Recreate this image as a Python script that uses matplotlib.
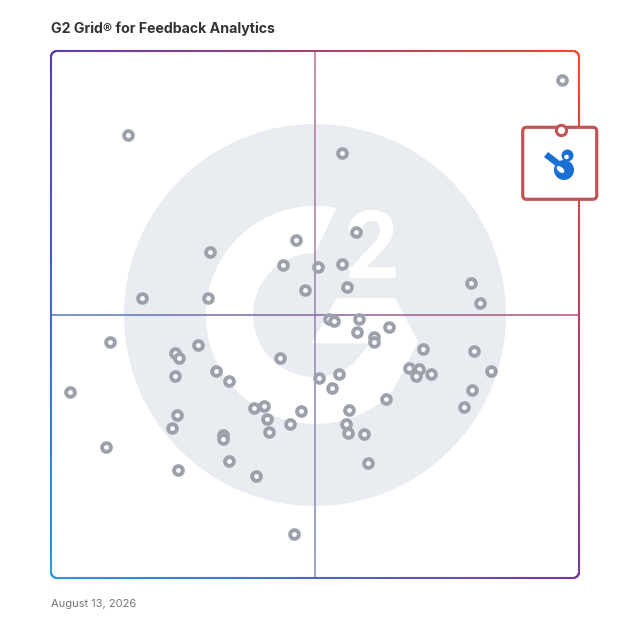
import numpy as np
import matplotlib
matplotlib.use("Agg")
import matplotlib.pyplot as plt
from matplotlib.collections import LineCollection
from matplotlib.patches import Circle, Polygon, FancyBboxPatch, Ellipse

# chart text
title = "G2 Grid\u00ae for Feedback Analytics"
date_label = "August 13, 2026"

# product positions on the grid (market presence 0-100, satisfaction 0-100)
presence = [96.8, 14.6, 55.2, 57.7, 46.4, 30.2, 43.9, 50.5, 55.1, 56.0,
            48.1, 17.2, 29.7, 79.5, 81.3, 52.7, 53.6, 58.3, 58.0, 61.2,
            61.2, 64.1, 70.5, 80.1, 23.4, 24.2, 27.9, 23.4, 43.3, 31.3,
            33.8, 50.7, 54.5, 53.2, 67.8, 69.7, 69.1, 71.9, 83.4, 79.8,
            78.3, 63.5, 23.8, 23.0, 38.5, 40.3, 40.9, 41.2, 47.4, 45.3,
            32.5, 32.6, 56.4, 55.9, 56.2, 59.2, 33.8, 24.1, 38.8, 60.0,
            11.2, 3.6, 10.4, 46.1]
satisfaction = [94.5, 84.1, 80.6, 65.7, 64.1, 61.8, 59.4, 59.1, 59.5, 55.3,
                54.7, 53.1, 53.1, 55.9, 52.1, 49.2, 48.8, 49.2, 46.6, 45.8,
                44.8, 47.6, 43.4, 43.1, 42.6, 41.8, 44.2, 38.4, 41.7, 39.3,
                37.3, 37.9, 38.8, 36.1, 39.9, 39.7, 38.3, 38.7, 39.3, 35.7,
                32.4, 34.0, 30.9, 28.5, 32.2, 32.7, 30.2, 27.7, 31.6, 29.2,
                27.1, 26.3, 31.8, 29.2, 27.5, 27.4, 22.2, 20.4, 19.4, 21.9,
                44.7, 35.2, 24.9, 8.4]
highlight_presence = [96.6]
highlight_satisfaction = [85.1]

# frame corner colours: top-left, top-right, bottom-left, bottom-right
c_tl = np.array([0x5a, 0x3c, 0xb0]) / 255
c_tr = np.array([0xf0, 0x4a, 0x2a]) / 255
c_bl = np.array([0x26, 0x9c, 0xdc]) / 255
c_br = np.array([0x7a, 0x38, 0x98]) / 255

# grid frame in pixels
gx0, gx1, gy0, gy1 = 51, 579, 51, 578


def grid_color(x, y, fade=1.0):
    u = np.clip((x - gx0) / (gx1 - gx0), 0, 1)
    v = np.clip((y - gy0) / (gy1 - gy0), 0, 1)
    top = c_tl * (1 - u) + c_tr * u
    bot = c_bl * (1 - u) + c_br * u
    c = top * (1 - v) + bot * v
    return c * fade + (1 - fade)


def gradient_line(ax, xs, ys, lw, fade=1.0, z=2, cap="round"):
    pts = np.column_stack([xs, ys])
    segs = np.stack([pts[:-1], pts[1:]], axis=1)
    mids = (pts[:-1] + pts[1:]) / 2
    cols = [tuple(grid_color(mx, my, fade)) for mx, my in mids]
    ax.add_collection(LineCollection(segs, colors=cols, linewidths=lw,
                                     capstyle=cap, zorder=z))


def rounded_rect(x0, x1, y0, y1, r):
    pts = []
    corners = [(x1 - r, y0 + r, -90, 0), (x1 - r, y1 - r, 0, 90),
               (x0 + r, y1 - r, 90, 180), (x0 + r, y0 + r, 180, 270)]
    for cx, cy, a0, a1 in corners:
        a = np.radians(np.linspace(a0, a1, 12))
        pts.append(np.column_stack([cx + r * np.cos(a), cy + r * np.sin(a)]))
    pts.append(pts[0][:1])
    pts = np.vstack(pts)
    # resample so the colour changes smoothly along each edge
    out = [pts[0]]
    for p, q in zip(pts[:-1], pts[1:]):
        k = max(1, int(np.hypot(*(q - p)) / 4))
        for t in np.linspace(0, 1, k + 1)[1:]:
            out.append(p + (q - p) * t)
    out = np.array(out)
    return out[:, 0], out[:, 1]


fig = plt.figure(figsize=(6.28, 6.28), dpi=100)
fig.patch.set_facecolor("white")

# background layer in pixel coordinates
bg = fig.add_axes([0, 0, 1, 1])
bg.set_xlim(0, 628)
bg.set_ylim(628, 0)
bg.axis("off")

# watermark G2 logo
cx, cy = 315, 315
bg.add_patch(Circle((cx, cy), 191, fc="#e9ecf0", ec="none", zorder=1))
r_in, r_out = 62, 109
a_out = np.radians(np.linspace(78.7, 315, 120))
a_in = np.radians(np.linspace(315, 90, 120))
ring = np.vstack([np.column_stack([cx + r_out * np.cos(a_out), cy - r_out * np.sin(a_out)]),
                  np.column_stack([cx + r_in * np.cos(a_in), cy - r_in * np.sin(a_in)])])
bg.add_patch(Polygon(ring, closed=True, fc="white", ec="none", zorder=1.1))
bar = [(336.7, 298.3), (395, 298.3), (418.3, 341.7), (392, 392),
       (355, 362), (370, 343.3), (311.7, 343.3)]
bg.add_patch(Polygon(bar, closed=True, fc="white", ec="none", zorder=1.1))
bg.text(372, 252, "2", ha="center", va="center", color="white",
        fontsize=68, fontweight="bold", family=["Roboto", "DejaVu Sans"], zorder=1.2)

# quadrant lines
ys = np.linspace(gy0, gy1, 120)
gradient_line(bg, np.full_like(ys, 315), ys, lw=1.2, fade=0.7, z=2, cap="butt")
xs = np.linspace(gx0, gx1, 120)
gradient_line(bg, xs, np.full_like(xs, 315), lw=1.2, fade=0.85, z=2, cap="butt")

# outer frame
fx, fy = rounded_rect(gx0, gx1, gy0, gy1, 6)
gradient_line(bg, fx, fy, lw=1.5, z=3)

# highlight box and icon
bg.add_patch(FancyBboxPatch((522.7, 127.3), 74, 72,
                            boxstyle="round,pad=0,rounding_size=4",
                            fc="white", ec="#c25552", lw=2.3, zorder=4))
blue = "#1a6fd2"
bg.add_patch(Polygon([(544, 157), (548, 152), (561, 162), (557, 167)],
                     closed=True, fc=blue, ec="none", zorder=5))
bg.add_patch(Circle((567.5, 155.5), 6, fc=blue, ec="none", zorder=5))
bg.add_patch(Circle((564, 170), 10, fc=blue, ec="none", zorder=5))
bg.add_patch(Circle((566.5, 157), 2.3, fc="white", ec="none", zorder=6))
bg.add_patch(Ellipse((560.5, 169.5), 9, 5, angle=40, fc="white", ec="none", zorder=6))

# titles
bg.text(51, 29, title, ha="left", va="center", fontsize=10.2, fontweight="bold",
        color="#333333", family=["Inter", "DejaVu Sans"])
bg.text(51, 604, date_label, ha="left", va="center", fontsize=8,
        color="#777777", family=["Inter", "DejaVu Sans"])

# grid of products
ax = fig.add_axes([gx0 / 628, 1 - gy1 / 628, (gx1 - gx0) / 628, (gy1 - gy0) / 628])
ax.set_zorder(3)
ax.patch.set_alpha(0)
ax.set_xlim(0, 100)
ax.set_ylim(0, 100)
ax.axis("off")
ax.plot(presence, satisfaction, "o", ms=6.3, mfc="white", mec="#9ca1ab",
        mew=2.8, ls="none", clip_on=False)
ax.plot(highlight_presence, highlight_satisfaction, "o", ms=7.4, mfc="white",
        mec="#c25552", mew=2.2, ls="none", clip_on=False)

fig.savefig("out.png", dpi=100, facecolor="white")
